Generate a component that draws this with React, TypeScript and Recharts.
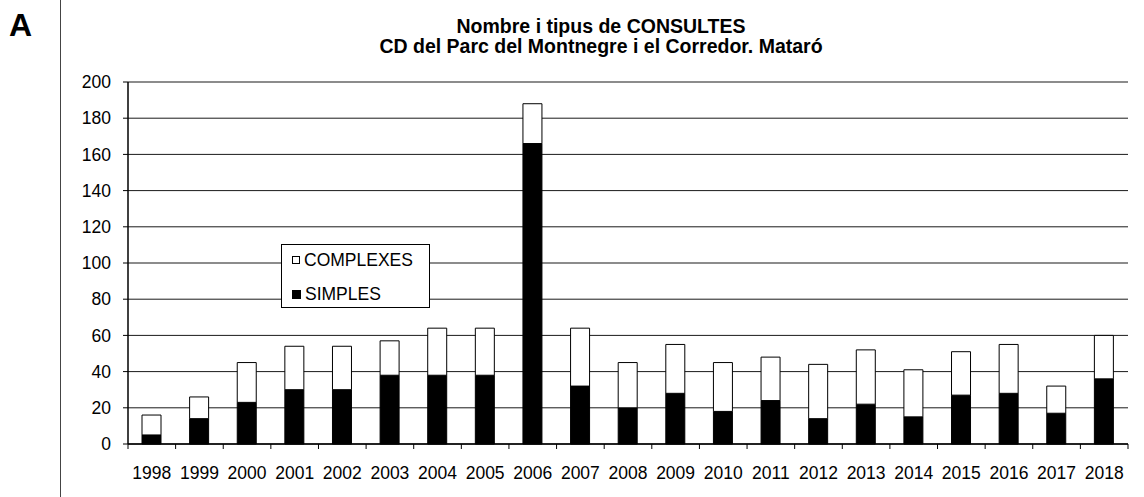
import React from 'react';
import { BarChart, Bar, XAxis, YAxis, CartesianGrid, Legend } from 'recharts';

const years = ['1998','1999','2000','2001','2002','2003','2004','2005','2006','2007','2008','2009','2010','2011','2012','2013','2014','2015','2016','2017','2018'];
const simples = [5,14,23,30,30,38,38,38,166,32,20,28,18,24,14,22,15,27,28,17,36];
const complexes = [11,12,22,24,24,19,26,26,22,32,25,27,27,24,30,30,26,24,27,15,24];
const yTicks = [0,20,40,60,80,100,120,140,160,180,200];
const titleLine1 = 'Nombre i tipus de CONSULTES';
const titleLine2 = 'CD del Parc del Montnegre i el Corredor.  Mataró';
const panelLabel = 'A';
const seriesNames = { simples: 'SIMPLES', complexes: 'COMPLEXES' };
const legendOrder = ['complexes', 'simples'];

const data = years.map((y, i) => ({ year: y, simples: simples[i], complexes: complexes[i] }));

const FONT = '"Liberation Sans", Arial, Helvetica, sans-serif';
const X_TICK_SIZE = 5;
const X_TICK_MARGIN = 18;
const LABEL_SIZE = 17.5;

const XTick = (props: any) => {
  const { x, y, payload, index, width, visibleTicksCount } = props;
  const half = payload && typeof payload.offset === 'number' && payload.offset > 0
    ? payload.offset
    : width / (visibleTicksCount || years.length) / 2;
  const axisY = y - X_TICK_SIZE - X_TICK_MARGIN;
  const isLast = index === years.length - 1;
  return (
    <g>
      <line x1={x - half} x2={x - half} y1={axisY} y2={axisY + X_TICK_SIZE} stroke="#000" strokeWidth={1} />
      {isLast && (
        <line x1={x + half} x2={x + half} y1={axisY} y2={axisY + X_TICK_SIZE} stroke="#000" strokeWidth={1} />
      )}
      <text x={x} y={y} dy="0.71em" textAnchor="middle" fill="#000" fontSize={LABEL_SIZE} fontFamily={FONT}>
        {payload.value}
      </text>
    </g>
  );
};

const LegendBox = (props: any) => {
  const items = [...(props.payload || [])].sort(
    (a: any, b: any) => legendOrder.indexOf(a.dataKey) - legendOrder.indexOf(b.dataKey)
  );
  return (
    <div
      style={{
        position: 'relative',
        width: 149,
        height: 64,
        boxSizing: 'border-box',
        border: '1px solid #000',
        background: '#fff',
        fontFamily: FONT,
        fontSize: LABEL_SIZE,
        color: '#000',
      }}
    >
      {items.map((it: any, i: number) => {
        const filled = it.dataKey === 'simples';
        return (
          <div
            key={it.value}
            style={{
              position: 'absolute',
              left: 10,
              top: i === 0 ? 6 : 40,
              height: 18,
              lineHeight: '18px',
              display: 'flex',
              alignItems: 'center',
              whiteSpace: 'nowrap',
            }}
          >
            <span
              style={{
                display: 'inline-block',
                width: filled ? 9 : 8,
                height: filled ? 9 : 8,
                boxSizing: 'border-box',
                background: filled ? '#000' : '#fff',
                border: '1px solid #000',
                marginRight: 4,
              }}
            />
            <span>{it.value}</span>
          </div>
        );
      })}
    </div>
  );
};

export default function App() {
  return (
    <div style={{ position: 'absolute', left: 0, top: 0, width: 1144, height: 497, background: '#fff', fontFamily: FONT }}>
      <BarChart
        width={1144}
        height={497}
        data={data}
        margin={{ top: 82, right: 16, bottom: 22, left: 0 }}
        barSize={19}
        style={{ fontFamily: FONT }}
      >
        <CartesianGrid vertical={false} stroke="#000" strokeWidth={1} strokeOpacity={0.9} />
        <XAxis
          dataKey="year"
          type="category"
          height={31}
          tickLine={false}
          tickSize={X_TICK_SIZE}
          tickMargin={X_TICK_MARGIN}
          axisLine={{ stroke: '#000', strokeWidth: 1.5 }}
          tick={<XTick />}
          interval={0}
          padding={{ left: 0, right: 0 }}
        />
        <YAxis
          width={128}
          domain={[0, 200]}
          ticks={yTicks}
          interval={0}
          tickSize={5}
          tickMargin={12}
          axisLine={{ stroke: '#000', strokeWidth: 1.5 }}
          tickLine={{ stroke: '#000' }}
          tick={{ fill: '#000', fontSize: LABEL_SIZE, fontFamily: FONT }}
        />
        <Legend
          layout="vertical"
          align="center"
          verticalAlign="middle"
          content={<LegendBox />}
          wrapperStyle={{ position: 'absolute', left: 281, top: 244, width: 149, height: 64 }}
        />
        <Bar dataKey="simples" name={seriesNames.simples} stackId="a" fill="#000" stroke="#000" strokeWidth={1} isAnimationActive={false} />
        <Bar dataKey="complexes" name={seriesNames.complexes} stackId="a" fill="#fff" stroke="#000" strokeWidth={1} isAnimationActive={false} />
      </BarChart>
      <svg width={1144} height={497} style={{ position: 'absolute', left: 0, top: 0, pointerEvents: 'none' }}>
        <line x1={60.5} x2={60.5} y1={0} y2={497} stroke="#444" strokeWidth={1} />
        <text x={20.5} y={36} textAnchor="middle" fontFamily={FONT} fontWeight="bold" fontSize={32} fill="#000">{panelLabel}</text>
        <text x={601} y={33} textAnchor="middle" fontFamily={FONT} fontWeight="bold" fontSize={19.5} fill="#000">{titleLine1}</text>
        <text x={601} y={53} textAnchor="middle" fontFamily={FONT} fontWeight="bold" fontSize={19.5} fill="#000">{titleLine2}</text>
      </svg>
    </div>
  );
}
